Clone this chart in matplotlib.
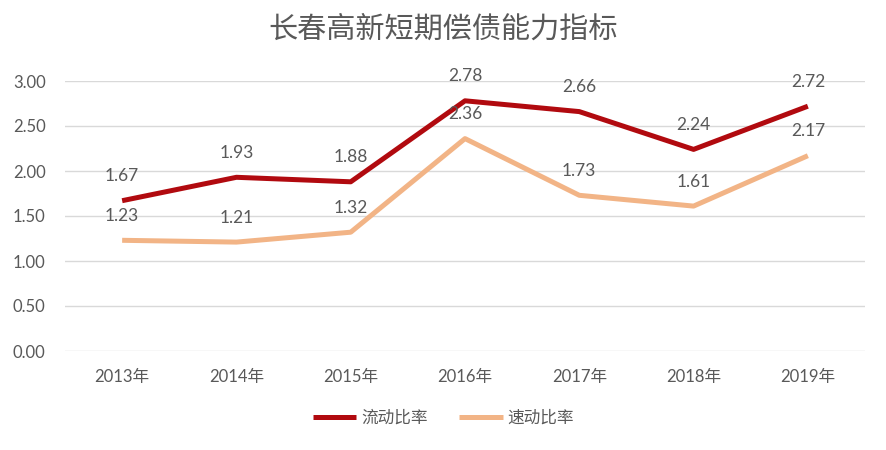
import matplotlib
matplotlib.use("Agg")
import matplotlib.pyplot as plt

plt.rcParams['font.family'] = ['Lato', 'Noto Sans CJK SC', 'DejaVu Sans']

years = ['2013年', '2014年', '2015年', '2016年', '2017年', '2018年', '2019年']
current_ratio = [1.67, 1.93, 1.88, 2.78, 2.66, 2.24, 2.72]
quick_ratio = [1.23, 1.21, 1.32, 2.36, 1.73, 1.61, 2.17]
yticks = [0.0, 0.5, 1.0, 1.5, 2.0, 2.5, 3.0]

c1 = '#B10A0F'
c2 = '#F2B486'
tc = '#595959'

fig = plt.figure(figsize=(8.87, 4.5), dpi=100)
ax = fig.add_axes([65/887, 1-351/450, 800/887, 270/450])
x = list(range(len(years)))
ax.plot(x, current_ratio, color=c1, lw=3.6, label='流动比率', solid_capstyle='butt', zorder=3)
ax.plot(x, quick_ratio, color=c2, lw=3.6, label='速动比率', solid_capstyle='butt', zorder=3)

for series in (current_ratio, quick_ratio):
    for xi, v in zip(x, series):
        ax.annotate(f'{v:.2f}', (xi, v), xytext=(0, 17.5), textcoords='offset points',
                    ha='center', va='center', fontsize=12.5, color=tc, zorder=4)

ax.set_xlim(-0.5, len(years) - 0.5)
ax.set_ylim(0, 3.0)
ax.set_yticks(yticks)
ax.set_yticklabels([f'{t:.2f}' for t in yticks])
ax.set_xticks(x)
ax.set_xticklabels(years)
ax.grid(axis='y', color='#D9D9D9', lw=1)
ax.set_axisbelow(True)
for s in ax.spines.values():
    s.set_visible(False)
ax.tick_params(length=0, colors=tc, labelsize=12)
ax.tick_params(axis='x', pad=13)
ax.tick_params(axis='y', pad=14)

fig.suptitle('长春高新短期偿债能力指标', y=0.965, fontsize=21, color=tc)
leg = fig.legend(loc='center', bbox_to_anchor=(0.5, 1-418/450), ncol=2, frameon=False,
                 fontsize=12, handlelength=2.6, columnspacing=1.9, handletextpad=0.3)
for t in leg.get_texts():
    t.set_color(tc)

fig.savefig('out.png', dpi=100)
